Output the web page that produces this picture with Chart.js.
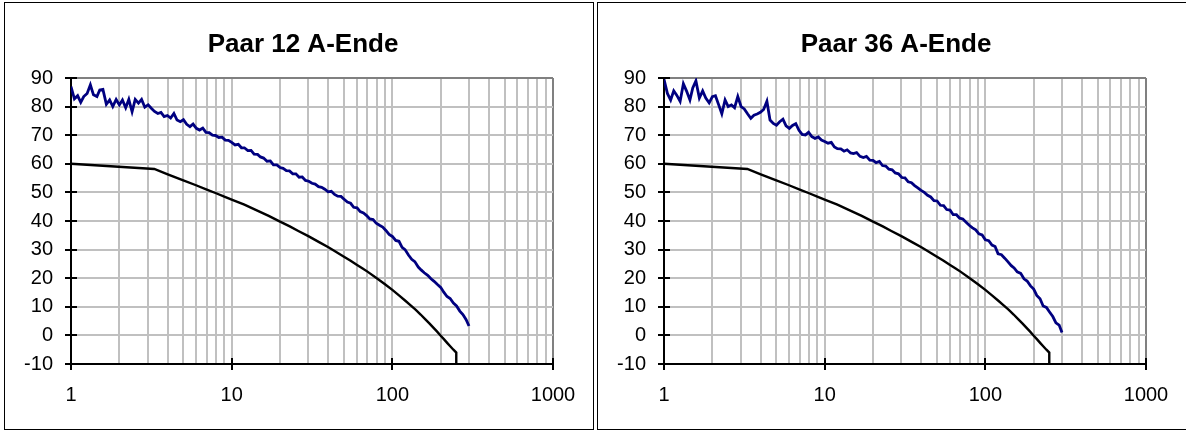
<!DOCTYPE html>
<html>
<head>
<meta charset="utf-8">
<script src="https://cdn.jsdelivr.net/npm/chart.js@4.4.1/dist/chart.umd.min.js"></script>
<style>
  html, body { margin: 0; padding: 0; background: #fff; overflow: hidden; width: 1186px; height: 432px; }
  .cv { position: absolute; top: 3px; }
  .box { position: absolute; border: 1px solid #000; box-sizing: border-box; pointer-events: none; }
</style>
</head>
<body>
<div class="box" style="left:4px; top:2px; width:590px; height:428px;"></div>
<div class="box" style="left:597px; top:2px; width:600px; height:428px;"></div>
<canvas id="c1" class="cv" width="598" height="427" style="left:4px;"></canvas>
<canvas id="c2" class="cv" width="598" height="427" style="left:597px;"></canvas>
<script>
// ---- data ----
const titles = ["Paar 12 A-Ende", "Paar 36 A-Ende"];
const xGridValues = [1,2,3,4,5,6,7,8,9,10,20,30,40,50,60,70,80,90,100,200,300,400,500,600,700,800,900,1000];
const xLabelValues = [1, 10, 100, 1000];
const yTickValues = [-10, 0, 10, 20, 30, 40, 50, 60, 70, 80, 90];

const freq = [
  1.00,1.05,1.10,1.15,1.20,1.26,1.32,1.38,1.45,1.51,
  1.58,1.66,1.74,1.82,1.91,2.00,2.09,2.19,2.29,2.40,
  2.51,2.63,2.75,2.88,3.02,3.16,3.31,3.47,3.63,3.80,
  3.98,4.17,4.37,4.57,4.79,5.01,5.25,5.50,5.75,6.03,
  6.31,6.61,6.92,7.24,7.59,7.94,8.32,8.71,9.12,9.55,
  10.0,10.5,11.0,11.5,12.0,12.6,13.2,13.8,14.5,15.1,
  15.8,16.6,17.4,18.2,19.1,20.0,20.9,21.9,22.9,24.0,
  25.1,26.3,27.5,28.8,30.2,31.6,33.1,34.7,36.3,38.0,
  39.8,41.7,43.7,45.7,47.9,50.1,52.5,55.0,57.5,60.3,
  63.1,66.1,69.2,72.4,75.9,79.4,83.2,87.1,91.2,95.5,
  100,105,110,115,120,126,132,138,145,151,
  158,166,174,182,191,200,209,219,229,240,
  251,263,275,288,300
];

const pair12 = [
  87.0,82.7,83.8,81.5,83.5,84.6,87.6,84.1,83.5,85.8,
  86.0,80.8,82.3,80.0,82.5,80.6,82.3,79.6,82.5,78.2,
  82.5,81.2,82.5,79.8,80.6,79.4,78.3,77.6,78.0,76.5,
  76.9,76.0,77.6,75.3,74.7,75.4,73.8,73.0,73.9,72.4,
  71.8,72.5,71.0,70.9,70.0,69.9,69.2,69.3,68.3,68.2,
  67.5,66.6,66.8,65.6,65.6,64.6,64.7,63.4,63.3,62.4,
  62.0,60.9,61.0,59.6,59.6,58.7,58.4,57.6,57.5,56.5,
  56.5,55.3,55.4,54.2,53.9,53.2,52.9,52.0,51.8,51.1,
  50.2,50.4,49.3,48.7,48.6,47.6,46.6,46.2,44.8,44.6,
  43.3,42.8,41.9,40.7,40.5,39.2,38.5,37.9,36.7,35.3,
  34.6,33.2,32.9,30.8,30.0,28.1,26.6,25.8,23.9,22.9,
  21.9,21.0,19.8,18.9,17.8,16.8,15.1,13.6,12.9,11.3,
  10.3,8.5,7.3,5.5,3.3
];

const pair36 = [
  89.5,84.6,82.3,85.5,84.0,81.8,88.0,85.5,82.3,86.5,
  89.0,83.0,85.5,83.0,81.3,83.5,83.8,80.6,77.5,82.3,
  80.0,80.6,79.6,83.5,80.0,79.2,77.5,75.9,77.0,77.4,
  78.0,79.0,81.9,75.3,74.1,73.5,74.7,75.6,73.3,72.4,
  73.4,74.0,71.7,70.3,70.1,71.0,69.5,68.9,69.4,68.3,
  67.8,67.2,67.5,65.9,65.3,65.2,64.4,64.9,63.8,63.6,
  63.9,62.6,62.2,62.6,61.3,61.2,60.4,60.8,59.4,59.2,
  58.1,57.9,56.8,56.5,55.2,55.1,53.7,53.4,52.4,51.6,
  50.7,50.0,49.0,48.4,47.1,47.0,45.5,45.4,44.0,43.8,
  42.2,42.2,41.0,40.7,39.6,38.5,37.6,36.9,35.5,35.1,
  33.4,33.1,31.6,31.1,28.5,28.2,27.0,25.8,24.4,23.6,
  22.2,21.7,19.8,19.0,17.3,16.2,14.0,12.8,10.3,9.8,
  8.2,6.6,4.4,3.6,1.0
];

const limitF = [1, 3.3, 4, 5, 6, 7, 8, 9, 10, 12, 14, 17, 20, 23, 26, 30, 35, 40, 45, 50, 55, 60, 65, 70, 80, 90, 100, 110, 120, 130, 140, 150, 160, 170, 180, 190, 200, 210, 220, 230, 240, 250, 250];
const limitV = [60, 58.2, 56.3, 54.2, 52.5, 51.0, 49.7, 48.5, 47.5, 45.7, 44.0, 41.8, 39.8, 38.1, 36.5, 34.7, 32.6, 30.8, 29.1, 27.5, 26.1, 24.7, 23.5, 22.3, 20.0, 17.9, 15.9, 14.0, 12.2, 10.5, 8.9, 7.3, 5.7, 4.2, 2.7, 1.3, -0.1, -1.4, -2.7, -3.9, -5.0, -6.0, -10];

// ---- drawing ----
const FONT = "'Liberation Sans', Arial, sans-serif";

const innerTicks = {
  id: 'innerTicks',
  afterDraw(chart) {
    const { ctx, chartArea: a, scales: { x, y } } = chart;
    ctx.save();
    ctx.strokeStyle = '#000';
    ctx.lineWidth = 2;
    yTickValues.forEach(v => {
      const py = Math.round(y.getPixelForValue(v));
      ctx.beginPath(); ctx.moveTo(a.left, py); ctx.lineTo(a.left + 6, py); ctx.stroke();
    });
    xLabelValues.forEach(v => {
      if (v === 1) return;
      const px = Math.round(x.getPixelForValue(v));
      ctx.beginPath(); ctx.moveTo(px, a.bottom); ctx.lineTo(px, a.bottom - 6); ctx.stroke();
    });
    ctx.restore();
  }
};

function makeChart(id, title, values) {
  const pts = freq.map((f, i) => ({ x: f, y: values[i] }));
  const lim = limitF.map((f, i) => ({ x: f, y: limitV[i] }));
  return new Chart(document.getElementById(id), {
    type: 'line',
    data: {
      datasets: [
        { data: pts, borderColor: '#000080', borderWidth: 2.8, pointRadius: 0, tension: 0, fill: false },
        { data: lim, borderColor: '#000000', borderWidth: 2.4, pointRadius: 0, tension: 0, fill: false }
      ]
    },
    options: {
      responsive: false,
      animation: false,
      devicePixelRatio: 1,
      events: [],
      layout: { padding: { left: 0, right: 0, top: 0, bottom: 0 } },
      plugins: {
        legend: { display: false },
        tooltip: { enabled: false },
        title: {
          display: true, text: title, color: '#000',
          font: { family: FONT, size: 26, weight: 'bold', lineHeight: 1.2 },
          padding: { top: 26, bottom: 17.8 }
        }
      },
      scales: {
        x: {
          type: 'logarithmic', min: 1, max: 1000,
          afterBuildTicks: s => { s.ticks = xGridValues.map(v => ({ value: v })); },
          afterFit: s => { s.height = 66; },
          ticks: {
            autoSkip: false, maxRotation: 0, minRotation: 0, color: '#000', padding: 13,
            font: { family: FONT, size: 20 },
            callback: v => xLabelValues.includes(v) ? String(v) : ''
          },
          grid: {
            lineWidth: 2,
            color: c => (c.tick && c.tick.value === 1000) ? '#808080' : '#c0c0c0',
            tickLength: 6, tickWidth: 2,
            tickColor: c => (c.tick && xLabelValues.includes(c.tick.value)) ? '#000' : 'rgba(0,0,0,0)'
          },
          border: { color: '#000', width: 2 }
        },
        y: {
          min: -10, max: 90,
          afterBuildTicks: s => { s.ticks = yTickValues.map(v => ({ value: v })); },
          afterFit: s => { s.width = 67; },
          ticks: { color: '#000', padding: 12, font: { family: FONT, size: 20 } },
          grid: {
            lineWidth: 2,
            color: c => (c.tick && c.tick.value === 90) ? '#808080' : '#c0c0c0',
            tickLength: 6, tickWidth: 2, tickColor: '#000'
          },
          border: { color: '#000', width: 2 }
        },
        spacer: {
          type: 'linear', position: 'right', min: 0, max: 1,
          ticks: { display: false },
          grid: { display: false, drawTicks: false },
          border: { display: false },
          afterFit: s => { s.width = 49; }
        }
      }
    },
    plugins: [innerTicks]
  });
}

makeChart('c1', titles[0], pair12);
makeChart('c2', titles[1], pair36);
</script>
</body>
</html>
